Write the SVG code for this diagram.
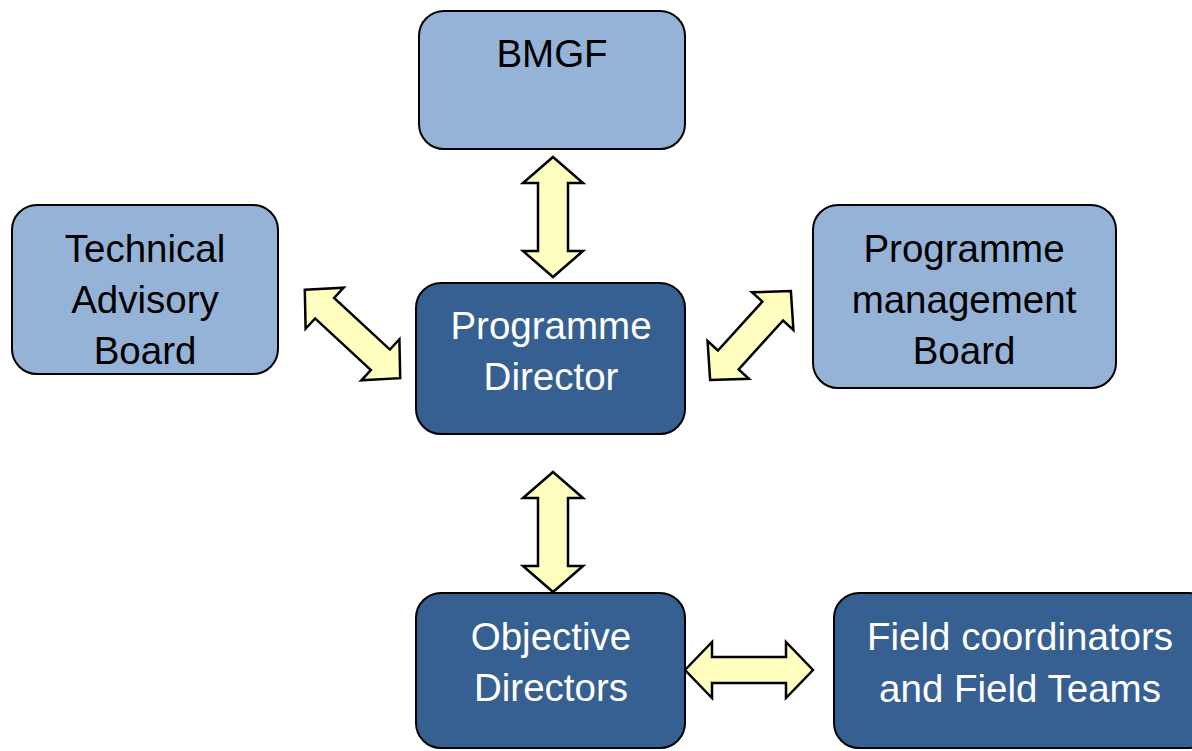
<svg xmlns="http://www.w3.org/2000/svg" width="1192" height="751" viewBox="0 0 1192 751">
<style>
.light{fill:#95B3D7;stroke:#000;stroke-width:2}
.dark{fill:#366092;stroke:#000;stroke-width:2}
.tl{font-family:"Liberation Sans",Arial,sans-serif;font-size:38.5px;fill:#000;text-anchor:middle}
.td{font-family:"Liberation Sans",Arial,sans-serif;font-size:38.5px;fill:#fff;text-anchor:middle}
.arr{fill:#FFFFC0;stroke:#000;stroke-width:2.5;stroke-linejoin:miter}
</style>
<rect width="1192" height="751" fill="#fff"/>
<g id="connectors">
<path class="arr" transform="translate(553,217) rotate(90)" d="M-60 0 L-34 -30 L-34 -15 L34 -15 L34 -30 L60 0 L34 30 L34 15 L-34 15 L-34 30 Z"/>
<path class="arr" transform="translate(553,532) rotate(90)" d="M-60 0 L-34 -30 L-34 -15 L34 -15 L34 -30 L60 0 L34 30 L34 15 L-34 15 L-34 30 Z"/>
<path class="arr" transform="translate(749,670)" d="M-64 0 L-37 -28 L-37 -13 L37 -13 L37 -28 L64 0 L37 28 L37 13 L-37 13 L-37 28 Z"/>
<path class="arr" transform="translate(352.5,334) rotate(42.8)" d="M-65 0 L-38 -28 L-38 -14 L38 -14 L38 -28 L65 0 L38 28 L38 14 L-38 14 L-38 28 Z"/>
<path class="arr" transform="translate(750.5,335.5) rotate(132.3)" d="M-60 0 L-33 -28 L-33 -14 L33 -14 L33 -28 L60 0 L33 28 L33 14 L-33 14 L-33 28 Z"/>
</g>
<g id="bmgf">
<rect class="light" x="419" y="11" width="266" height="138" rx="25"/>
<text class="tl" x="552" y="67">BMGF</text>
</g>
<g id="tab">
<rect class="light" x="12" y="205" width="266" height="169" rx="25"/>
<text class="tl" x="145" y="262">Technical</text>
<text class="tl" x="145" y="313">Advisory</text>
<text class="tl" x="145" y="364">Board</text>
</g>
<g id="pd">
<rect class="dark" x="416" y="283" width="269" height="151" rx="25"/>
<text class="td" x="551" y="339">Programme</text>
<text class="td" x="551" y="390">Director</text>
</g>
<g id="pmb">
<rect class="light" x="813" y="205" width="303" height="183" rx="25"/>
<text class="tl" x="964" y="262">Programme</text>
<text class="tl" x="964" y="313">management</text>
<text class="tl" x="964" y="364">Board</text>
</g>
<g id="od">
<rect class="dark" x="416" y="593" width="269" height="155" rx="25"/>
<text class="td" x="551" y="650">Objective</text>
<text class="td" x="551" y="701">Directors</text>
</g>
<g id="fc">
<rect class="dark" x="834" y="593" width="380" height="155" rx="25"/>
<text class="td" x="1020" y="650">Field coordinators</text>
<text class="td" x="1020" y="702">and Field Teams</text>
</g>
</svg>
